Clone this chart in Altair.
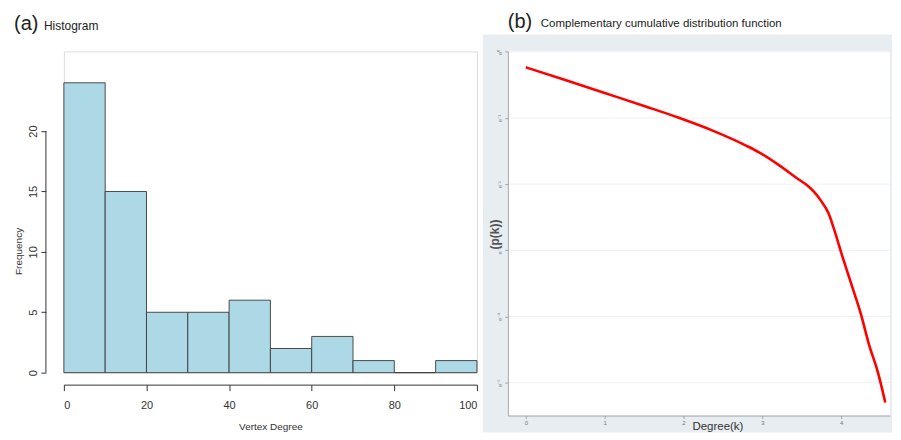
import altair as alt
import pandas as pd

# ---------------- data: histogram (a) ----------------
bin_start = [0, 10, 20, 30, 40, 50, 60, 70, 80, 90]
bin_end = [10, 20, 30, 40, 50, 60, 70, 80, 90, 100]
frequency = [24, 15, 5, 5, 6, 2, 3, 1, 0, 1]
hist_x_ticks = [0, 20, 40, 60, 80, 100]
hist_y_ticks = [0, 5, 10, 15, 20]

# ---------------- data: CCDF (b), log-log ----------------
log_degree = [0.0, 0.51, 1.01, 1.52, 1.95, 2.37, 2.80, 2.96, 3.22, 3.44, 3.56,
              3.66, 3.75, 3.84, 3.91, 4.01, 4.14, 4.25, 4.35, 4.47, 4.56]
log_ccdf = [-0.234, -0.43, -0.625, -0.825, -1.0, -1.19, -1.42, -1.52, -1.72, -1.91, -2.01,
            -2.12, -2.26, -2.44, -2.68, -3.07, -3.55, -3.96, -4.41, -4.86, -5.30]
ccdf_x_ticks = [0, 1, 2, 3, 4]
ccdf_y_ticks = [0, -1, -2, -3, -4, -5]
ccdf_y_labels = ["e⁰", "e⁻¹", "e⁻²", "e⁻³", "e⁻⁴", "e⁻⁵"]

FONT = "Liberation Sans"
NARROW = "Liberation Sans Narrow, Arial Narrow, Liberation Sans"

hist_df = pd.DataFrame({"start": bin_start, "end": bin_end, "freq": frequency})
axis_span = pd.DataFrame({"lo": [hist_y_ticks[0]], "hi": [hist_y_ticks[-1]]})
ccdf_df = pd.DataFrame({"logk": log_degree, "logp": log_ccdf})
grid_df = pd.DataFrame({"g": ccdf_y_ticks})
one = pd.DataFrame({"k": [0]})

# ---------------- panel (a) ----------------
LW, LH = 414, 322
xs_a = alt.Scale(domain=[0, 100], nice=False, zero=False)
ys_a = alt.Scale(domain=[0, 26.6], nice=False)

bars = alt.Chart(hist_df).mark_rect(
    fill="#add8e6", stroke="#3a3a3a", strokeWidth=0.9
).encode(
    x=alt.X("start:Q", scale=xs_a, axis=alt.Axis(
        values=hist_x_ticks, offset=12, grid=False,
        domainColor="#333", domainWidth=1, tickColor="#333", tickSize=6,
        labelFont=NARROW, labelFontSize=11, labelColor="#333", labelPadding=9,
        title="Vertex Degree", titleFont=NARROW, titleFontSize=10,
        titleFontWeight="normal", titleColor="#333",
        titleX=207, titleY=42, titleBaseline="middle")),
    x2="end:Q",
    y=alt.Y("freq:Q", scale=ys_a, axis=alt.Axis(
        values=hist_y_ticks, offset=18, grid=False, domain=False,
        tickColor="#333", tickSize=5,
        labelAngle=-90, labelAlign="center", labelBaseline="bottom",
        labelFont=NARROW, labelFontSize=11, labelColor="#333", labelPadding=2,
        title="Frequency", titleFont=NARROW, titleFontSize=10,
        titleFontWeight="normal", titleColor="#333",
        titleAngle=-90, titleX=-27, titleY=200, titleBaseline="middle")),
    y2=alt.Y2(datum=0),
)

yline = alt.Chart(axis_span).mark_rule(color="#333", strokeWidth=1).encode(
    x=alt.value(-18), y=alt.Y("lo:Q", scale=ys_a), y2="hi:Q"
)

tag_a = alt.Chart(one).mark_text(
    text="(a)", font=FONT, fontSize=20, align="left", baseline="middle", color="#222"
).encode(x=alt.value(-50), y=alt.value(-27))
title_a = alt.Chart(one).mark_text(
    text="Histogram", font=FONT, fontSize=12, align="left", baseline="middle", color="#222"
).encode(x=alt.value(-20), y=alt.value(-25.5))

left = alt.layer(bars, yline, tag_a, title_a).properties(width=LW, height=LH)

# ---------------- panel (b) ----------------
RW, RH = 383, 365
xs_b = alt.Scale(domain=[-0.228, 4.62], nice=False, zero=False)
ys_b = alt.Scale(domain=[-5.498, 0.0075], nice=False, zero=False)

label_expr = "[" + ",".join("'" + s + "'" for s in ccdf_y_labels) + "][round(-datum.value)]"

panel_bg = alt.Chart(one).mark_rect(fill="#e7edf0").encode(
    x=alt.value(-25), x2=alt.value(385), y=alt.value(-17), y2=alt.value(382)
)
plot_bg = alt.Chart(one).mark_rect(fill="white").encode(
    x=alt.value(0), x2=alt.value(RW), y=alt.value(0), y2=alt.value(RH)
)
grid = alt.Chart(grid_df).mark_rule(color="#f1f1f1", strokeWidth=1).encode(
    y=alt.Y("g:Q", scale=ys_b), x=alt.value(0), x2=alt.value(RW)
)
curve = alt.Chart(ccdf_df).mark_line(
    color="#ff0000", strokeWidth=2.6, interpolate="monotone"
).encode(
    x=alt.X("logk:Q", scale=xs_b, axis=alt.Axis(
        values=ccdf_x_ticks, grid=False, zindex=1,
        domainColor="#a0a8ac", tickColor="#a0a8ac", tickSize=3,
        labelFont=FONT, labelFontSize=6, labelColor="#777", labelPadding=1,
        title="Degree(k)", titleFont=FONT, titleFontSize=11.5,
        titleFontWeight="normal", titleColor="#333",
        titleX=210, titleY=11, titleBaseline="middle")),
    y=alt.Y("logp:Q", scale=ys_b, axis=alt.Axis(
        values=ccdf_y_ticks, labelExpr=label_expr, grid=False, zindex=1,
        domainColor="#a0a8ac", tickColor="#a0a8ac", tickSize=3,
        labelAngle=-90, labelAlign="center", labelBaseline="bottom",
        labelFont=FONT, labelFontSize=6, labelColor="#888", labelPadding=2,
        title="(p(k))", titleFont=FONT, titleFontSize=12,
        titleFontWeight="bold", titleColor="#555",
        titleAngle=-90, titleX=-13, titleY=183, titleBaseline="middle")),
)
tag_b = alt.Chart(one).mark_text(
    text="(b)", font=FONT, fontSize=20, align="left", baseline="middle", color="#222"
).encode(x=alt.value(0), y=alt.value(-29))
title_b = alt.Chart(one).mark_text(
    text="Complementary cumulative distribution function", font=FONT, fontSize=11.5,
    align="left", baseline="middle", color="#222"
).encode(x=alt.value(33), y=alt.value(-27.5))

right = alt.layer(panel_bg, plot_bg, grid, curve, tag_b, title_b).properties(width=RW, height=RH)

chart = alt.hconcat(left, right, spacing=31, bounds="flush").properties(
    padding={"left": 5, "top": 3, "right": 0, "bottom": 0}
).configure_view(stroke=None).configure(font=FONT)

chart.save("out.html", embed_options={"renderer": "svg", "actions": False})
